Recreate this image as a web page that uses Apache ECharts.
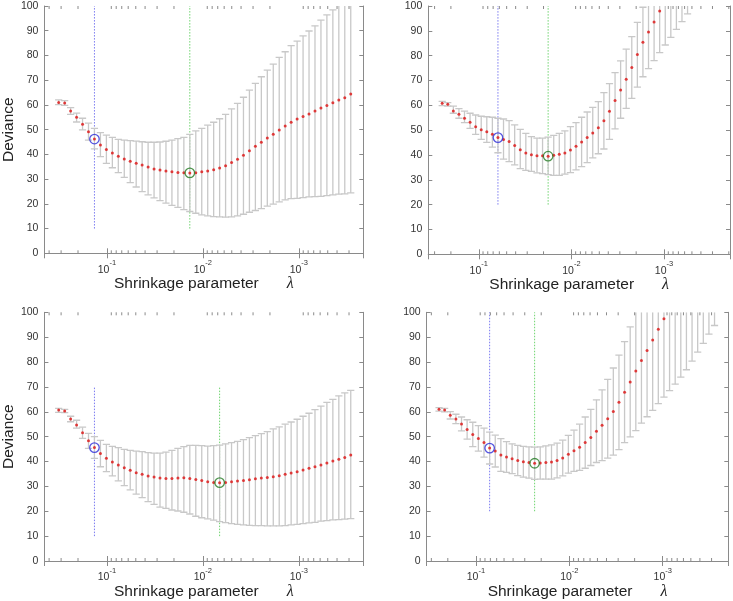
<!DOCTYPE html>
<html><head><meta charset="utf-8">
<script src="https://cdn.jsdelivr.net/npm/echarts@6/dist/echarts.min.js"></script>
<style>html,body{margin:0;padding:0;background:#fff}#c{width:733px;height:601px}</style>
</head><body><div id="c"></div><script>
// ---- data ----
const lambdaA = [0.318, 0.2754, 0.2387, 0.2069, 0.1794, 0.1555, 0.1348, 0.1168, 0.1012, 0.08772, 0.07603, 0.06591, 0.05713, 0.04952, 0.04293, 0.03721, 0.03226, 0.02796, 0.02424, 0.02101, 0.0182, 0.01578, 0.01368, 0.01185, 0.01027, 0.008903, 0.007718, 0.00669, 0.005799, 0.005027, 0.004355, 0.003775, 0.003273, 0.002837, 0.002459, 0.002131, 0.001847, 0.001601, 0.001388, 0.001203, 0.001042, 0.0009035, 0.0007832, 0.0006789, 0.0005885, 0.0005101, 0.0004421, 0.0003832, 0.0003322, 0.0002879];
const lambdaB = [0.2483, 0.2162, 0.1882, 0.1638, 0.1426, 0.1242, 0.1081, 0.0941, 0.08193, 0.07132, 0.06209, 0.05406, 0.04706, 0.04097, 0.03567, 0.03105, 0.02703, 0.02353, 0.02049, 0.01784, 0.01552, 0.01352, 0.01177, 0.01024, 0.008917, 0.007762, 0.00676, 0.005885, 0.005123, 0.00446, 0.003882, 0.00338, 0.002942, 0.002562, 0.00223, 0.001941, 0.00169, 0.001471, 0.001281, 0.001115, 0.0009705, 0.0008449, 0.0007356, 0.0006404, 0.0005575, 0.0004853, 0.0004225, 0.0003678, 0.0003202, 0.0002788];

const mean1 = [61.0, 60.8, 57.5, 55.0, 52.2, 49.2, 46.2, 43.8, 42.0, 40.6, 39.2, 38.1, 37.2, 36.4, 35.7, 34.9, 34.1, 33.7, 33.3, 33.0, 32.7, 32.6, 32.5, 32.6, 33.0, 33.3, 33.8, 34.5, 35.4, 36.7, 38.0, 39.6, 41.5, 43.3, 44.9, 46.6, 48.1, 49.9, 51.5, 53.0, 54.3, 55.3, 56.3, 57.5, 58.8, 59.8, 60.9, 62.0, 62.9, 64.4];
const upper1 = [62.0, 61.7, 58.9, 56.7, 54.6, 52.6, 50.5, 48.8, 47.8, 46.9, 46.1, 45.8, 45.6, 45.4, 45.1, 44.9, 44.9, 45.0, 45.3, 45.8, 46.4, 46.9, 48.1, 49.5, 50.5, 51.8, 53.0, 54.4, 56.2, 58.4, 60.6, 63.1, 66.0, 68.7, 71.4, 74.1, 76.5, 79.2, 81.5, 84.0, 85.8, 87.9, 89.9, 92.0, 94.3, 96.4, 98.4, 100.5, 102.0, 104.4];
const lower1 = [60.1, 59.8, 56.2, 53.1, 49.9, 45.8, 42.2, 39.1, 36.4, 34.6, 32.6, 30.7, 28.6, 26.8, 24.9, 23.6, 22.4, 21.3, 20.3, 19.4, 18.6, 17.7, 16.9, 16.2, 15.5, 15.1, 14.8, 14.7, 14.6, 14.7, 15.1, 15.8, 16.6, 17.3, 18.1, 19.1, 19.9, 20.8, 21.6, 22.1, 22.2, 22.5, 22.8, 22.9, 23.0, 23.3, 23.6, 23.9, 24.0, 24.4];

const mean2 = [60.8, 60.4, 57.7, 56.4, 54.8, 53.2, 51.4, 50.2, 49.4, 48.3, 47.0, 46.2, 45.4, 43.8, 42.1, 40.8, 40.1, 39.7, 39.7, 39.5, 39.9, 40.3, 40.8, 42.0, 43.5, 45.2, 47.0, 48.9, 51.0, 53.8, 57.6, 61.9, 66.2, 70.5, 75.2, 80.5, 85.4, 89.5, 93.6, 98.0, 102.5, 107.0, 111.5, 116.0, 120.5];
const upper2 = [61.6, 61.1, 59.7, 58.7, 57.7, 56.8, 56.1, 55.6, 55.4, 55.2, 54.8, 54.5, 53.8, 52.1, 50.3, 48.7, 47.4, 46.8, 46.8, 47.2, 47.9, 48.7, 49.7, 51.4, 53.0, 55.2, 57.3, 59.2, 61.5, 65.1, 68.7, 73.2, 77.9, 82.6, 87.7, 93.4, 99.5, 104.2, 109.2, 114.8, 120.7, 126.6, 132.4, 138.3, 144.2];
const lower2 = [59.9, 59.7, 56.8, 54.8, 53.0, 50.7, 48.3, 46.3, 45.1, 43.2, 40.9, 38.3, 37.3, 36.0, 34.5, 33.8, 33.4, 32.8, 32.5, 32.1, 31.8, 31.8, 32.3, 32.9, 34.0, 35.3, 36.9, 38.8, 40.5, 42.4, 46.3, 50.5, 54.8, 58.8, 62.8, 67.3, 71.5, 74.8, 78.0, 81.2, 84.3, 87.4, 90.6, 93.7, 96.8];

const mean3 = [60.7, 60.3, 57.1, 54.7, 51.6, 48.4, 45.6, 43.2, 41.3, 39.8, 38.6, 37.5, 36.5, 35.5, 34.9, 34.2, 33.8, 33.4, 33.2, 33.2, 33.4, 33.5, 33.2, 32.8, 32.4, 31.9, 31.6, 31.5, 31.6, 31.9, 32.2, 32.4, 32.7, 33.1, 33.4, 33.6, 33.9, 34.3, 34.9, 35.4, 35.9, 36.6, 37.3, 37.9, 38.6, 39.4, 40.2, 40.9, 41.6, 42.6];
const upper3 = [61.4, 61.0, 58.2, 56.6, 53.8, 51.3, 50.0, 48.5, 46.9, 46.1, 45.6, 44.9, 44.5, 44.2, 44.0, 43.6, 43.4, 43.4, 43.8, 44.5, 45.3, 46.0, 46.5, 46.5, 46.4, 46.2, 46.4, 46.6, 47.1, 47.6, 48.1, 48.8, 49.6, 50.4, 51.2, 52.0, 53.1, 53.9, 55.0, 55.9, 57.0, 58.2, 59.4, 60.9, 62.3, 63.8, 65.0, 66.4, 67.6, 68.6];
const lower3 = [59.8, 59.7, 56.0, 53.4, 49.3, 45.3, 41.3, 37.9, 35.9, 34.2, 32.2, 30.3, 28.6, 26.9, 25.5, 23.9, 22.8, 21.7, 21.2, 20.5, 20.1, 19.6, 18.9, 18.0, 17.4, 16.9, 16.4, 15.8, 15.4, 15.0, 14.7, 14.5, 14.3, 14.2, 14.2, 14.1, 14.1, 14.1, 14.2, 14.5, 14.7, 15.0, 15.3, 15.5, 16.0, 16.2, 16.5, 16.6, 16.8, 17.0];

const mean4 = [61.0, 60.7, 58.6, 57.1, 55.1, 52.9, 50.9, 49.3, 47.6, 45.4, 44.2, 42.6, 41.8, 41.1, 40.4, 39.9, 39.6, 39.3, 39.4, 39.6, 39.8, 40.4, 41.4, 42.9, 44.3, 45.7, 47.6, 49.7, 52.2, 54.6, 57.2, 60.1, 63.8, 67.9, 72.0, 76.4, 80.6, 84.6, 88.9, 93.2, 97.4, 101.6, 106.0, 110.4, 114.8, 119.2, 123.6, 128.0, 132.4, 136.8];
const upper4 = [61.7, 61.4, 60.1, 59.0, 57.9, 56.8, 55.8, 54.4, 53.4, 51.8, 50.6, 49.2, 48.0, 47.1, 46.5, 46.1, 45.9, 45.8, 45.9, 46.3, 46.7, 47.4, 48.6, 50.5, 52.6, 55.0, 57.9, 61.0, 64.8, 68.8, 73.0, 77.6, 82.8, 88.2, 94.1, 100.4, 105.8, 111.2, 117.2, 123.1, 128.9, 134.7, 140.9, 146.9, 152.7, 158.0, 163.2, 168.5, 173.6, 178.9];
const lower4 = [60.3, 60.0, 57.1, 55.2, 52.3, 49.0, 46.0, 44.2, 41.8, 39.0, 37.8, 36.0, 35.6, 35.1, 34.3, 33.7, 33.3, 32.8, 32.9, 32.9, 32.9, 33.4, 34.2, 35.3, 36.0, 36.4, 37.3, 38.4, 39.6, 40.4, 41.4, 42.6, 44.8, 47.6, 49.9, 52.4, 55.4, 58.0, 60.6, 63.3, 65.9, 68.5, 71.1, 73.9, 76.9, 80.4, 84.0, 87.5, 91.2, 94.7];

// selected lambda indices (1-SE rule: blue, minimum: green) and the y-span of their marker lines
const blueIdx = [6, 10, 6, 9];
const greenIdx = [22, 19, 27, 17];
const markerSpan = [[10, 100], [20, 100], [10, 70], [20, 100]];

const minorTicks = [0.4, 0.3, 0.2, 0.09, 0.08, 0.07, 0.06, 0.05, 0.04, 0.03, 0.02,
  0.009, 0.008, 0.007, 0.006, 0.005, 0.004, 0.003, 0.002,
  0.0009, 0.0008, 0.0007, 0.0006, 0.0005, 0.0004, 0.0003, 0.0002];
const yMin = 0, yMax = 100, yStep = 10;
const xTitle = 'Shrinkage parameter';
const xSymbol = 'λ';
const yTitle = 'Deviance';

// ---- layout ----
const grids = [
  {left: 43.3, top: 6, width: 320, height: 247.3},
  {left: 428.3, top: 6, width: 303.4, height: 248.3},
  {left: 43.3, top: 312.3, width: 320, height: 248.7},
  {left: 426.7, top: 312.3, width: 301.6, height: 248.7}
];
const xRanges = [[2.13e-4, 0.4477], [1.941e-4, 0.3507], [2.13e-4, 0.4477], [1.986e-4, 0.3365]];
const showYTitle = [true, false, true, false];

const panels = [
  {lambda: lambdaA, mean: mean1, upper: upper1, lower: lower1},
  {lambda: lambdaB, mean: mean2, upper: upper2, lower: lower2},
  {lambda: lambdaA, mean: mean3, upper: upper3, lower: lower3},
  {lambda: lambdaB, mean: mean4, upper: upper4, lower: lower4}
];

const FONT = "'Liberation Sans', Arial, Helvetica, sans-serif";
const AXIS = '#8a8a8a';
const TXT = '#333';

function expLabel(v) {
  const l = Math.log10(v), e = Math.round(l);
  if (Math.abs(l - e) > 1e-6) return '';
  return '{b|10}{s|' + e + '}';
}

const option = {animation: false, backgroundColor: '#fff', grid: [], xAxis: [], yAxis: [], series: []};

panels.forEach((p, i) => {
  option.grid.push(Object.assign({containLabel: false}, grids[i]));
  const base = {
    type: 'log', logBase: 10, gridIndex: i, inverse: true,
    min: xRanges[i][0], max: xRanges[i][1],
    splitLine: {show: false},
    axisLine: {show: true, lineStyle: {color: AXIS, width: 1}},
    axisTick: {show: true, inside: true, length: 5, lineStyle: {color: AXIS}}
  };
  option.xAxis.push(Object.assign({}, base, {
    position: 'bottom',
    axisLabel: {
      interval: 0, margin: 6, formatter: expLabel, fontFamily: FONT,
      rich: {
        b: {fontSize: 10.5, color: TXT, fontFamily: FONT, lineHeight: 16, verticalAlign: 'bottom'},
        s: {fontSize: 7.5, color: TXT, fontFamily: FONT, lineHeight: 9, verticalAlign: 'top'}
      }
    },
    name: '{a|' + xTitle + '}{l|' + xSymbol + '}',
    nameLocation: 'middle', nameGap: 21,
    nameTextStyle: {
      rich: {
        a: {fontSize: 15.5, color: '#222', fontFamily: FONT},
        l: {fontSize: 16, color: '#222', fontFamily: "'Liberation Serif', serif", fontStyle: 'italic', padding: [0, 0, 0, 28]}
      }
    }
  }));
  option.xAxis.push(Object.assign({}, base, {position: 'top', axisLabel: {show: false}}));
  const ybase = {
    type: 'value', gridIndex: i, min: yMin, max: yMax, interval: yStep,
    splitLine: {show: false},
    axisLine: {show: true, lineStyle: {color: AXIS, width: 1}},
    axisTick: {show: true, inside: true, length: 4, lineStyle: {color: AXIS}}
  };
  option.yAxis.push(Object.assign({}, ybase, {
    position: 'left',
    axisLabel: {fontSize: 10.5, color: TXT, fontFamily: FONT, margin: 6},
    name: showYTitle[i] ? yTitle : '',
    nameLocation: 'middle', nameGap: 27, nameRotate: 90,
    nameTextStyle: {fontSize: 15.5, color: '#222', fontFamily: FONT}
  }));
  option.yAxis.push(Object.assign({}, ybase, {position: 'right', axisLabel: {show: false}}));

  const xi = i * 2, yi = i * 2;
  const barData = p.lambda.slice(0, p.mean.length).map((l, k) => [l, p.lower[k], p.upper[k]]);
  const barStyle = {stroke: '#c8c8c8', lineWidth: 1.3};

  // error bars
  option.series.push({
    type: 'custom', xAxisIndex: xi, yAxisIndex: yi, z: 2, clip: true,
    encode: {x: 0, y: [1, 2]},
    data: barData,
    renderItem: function (params, api) {
      const x = api.value(0), lo = api.value(1), hi = api.value(2);
      if (lo >= yMax) return null;
      const top = Math.min(hi, yMax);
      const a = api.coord([x, lo]), b = api.coord([x, top]);
      const hw = 3.6;
      const ch = [
        {type: 'line', shape: {x1: a[0], y1: a[1], x2: b[0], y2: b[1]}, style: barStyle},
        {type: 'line', shape: {x1: a[0] - hw, y1: a[1], x2: a[0] + hw, y2: a[1]}, style: barStyle}
      ];
      if (hi <= yMax) ch.push({type: 'line', shape: {x1: b[0] - hw, y1: b[1], x2: b[0] + hw, y2: b[1]}, style: barStyle});
      return {type: 'group', children: ch};
    }
  });

  // vertical marker lines
  const bl = p.lambda[blueIdx[i]], gl = p.lambda[greenIdx[i]];
  option.series.push({
    type: 'line', xAxisIndex: xi, yAxisIndex: yi, z: 1, symbol: 'none', silent: true,
    data: [[bl, markerSpan[i][0]], [bl, markerSpan[i][1]]],
    lineStyle: {color: '#7b7bf0', width: 1, type: [1.5, 1.5]}
  });
  option.series.push({
    type: 'line', xAxisIndex: xi, yAxisIndex: yi, z: 1, symbol: 'none', silent: true,
    data: [[gl, markerSpan[i][0]], [gl, markerSpan[i][1]]],
    lineStyle: {color: '#6fd46f', width: 1, type: [1.5, 1.5]}
  });

  // means
  option.series.push({
    type: 'scatter', xAxisIndex: xi, yAxisIndex: yi, z: 4, clip: true,
    symbol: 'circle', symbolSize: 3,
    itemStyle: {color: '#dd1111'},
    data: p.lambda.slice(0, p.mean.length).map((l, k) => [l, p.mean[k]])
  });
  // highlighted rings
  option.series.push({
    type: 'scatter', xAxisIndex: xi, yAxisIndex: yi, z: 5,
    symbol: 'circle', symbolSize: 9.5,
    itemStyle: {color: 'rgba(0,0,0,0)', borderColor: '#2b2bd8', borderWidth: 1.3},
    data: [[bl, p.mean[blueIdx[i]]]]
  });
  option.series.push({
    type: 'scatter', xAxisIndex: xi, yAxisIndex: yi, z: 5,
    symbol: 'circle', symbolSize: 9.5,
    itemStyle: {color: 'rgba(0,0,0,0)', borderColor: '#227a22', borderWidth: 1.3},
    data: [[gl, p.mean[greenIdx[i]]]]
  });

  // minor log ticks (top and bottom)
  option.series.push({
    type: 'custom', xAxisIndex: xi, yAxisIndex: yi, z: 6, silent: true,
    encode: {x: 0, y: 1},
    data: minorTicks.map(v => [v, yMin]),
    renderItem: function (params, api) {
      const v = api.value(0);
      const cs = params.coordSys;
      const px = api.coord([v, yMin])[0];
      if (px <= cs.x + 0.5 || px >= cs.x + cs.width - 0.5) return null;
      const st = {stroke: AXIS, lineWidth: 1};
      return {type: 'group', children: [
        {type: 'line', shape: {x1: px, y1: cs.y + cs.height, x2: px, y2: cs.y + cs.height - 3}, style: st},
        {type: 'line', shape: {x1: px, y1: cs.y, x2: px, y2: cs.y + 3}, style: st}
      ]};
    }
  });
});

const chart = echarts.init(document.getElementById('c'), null, {renderer: 'canvas'});
chart.setOption(option);
</script></body></html>
